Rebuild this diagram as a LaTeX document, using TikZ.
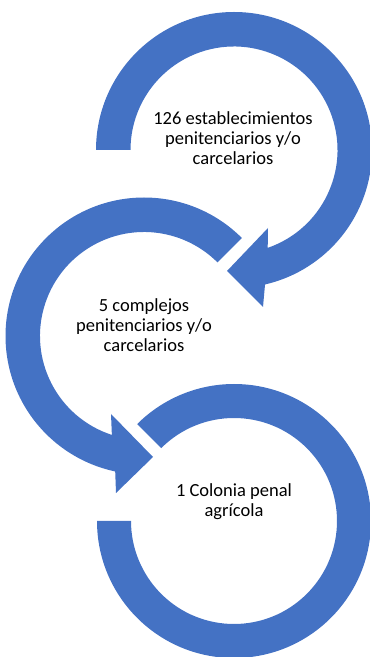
\documentclass[tikz,border=0pt]{standalone}
\usepackage{fontspec}
\setmainfont{Carlito}
\usepackage{xcolor}
\usepackage{tikz}
\usetikzlibrary{calc}
\definecolor{ringblue}{HTML}{4472C4}

\begin{document}
\begin{tikzpicture}[x=1pt, y=1pt, ring/.style={fill=ringblue, draw=none}, every node/.style={align=center, inner sep=0pt, font=\fontsize{18.5}{20}\selectfont}]
    \useasboundingbox (0,0) rectangle (370,657);
    \coordinate (c1) at (234,507);
    \coordinate (c2) at (144,321);
    \coordinate (c3) at (234,136);

    % bottom ring
    \path[ring] (c3) ++(180:137) arc[start angle=180, end angle=495, radius=137]
        -- ($(c3)+(135:103)$) arc[start angle=495, end angle=180, radius=103] -- cycle;
    % middle ring with arrow
    \path[ring] (c2) ++(45:138.5) arc[start angle=45, end angle=258, radius=138.5]
        -- (116,164) -- (153,200) -- (111,243)
        -- ($(c2)+(252:104)$) arc[start angle=252, end angle=45, radius=104] -- cycle;
    % top ring with arrow
    \path[ring] (c1) ++(180:138) arc[start angle=180, end angle=-77, radius=138]
        -- (263,350) -- (227,386) -- (268,429)
        -- ($(c1)+(-71:103.5)$) arc[start angle=-71, end angle=180, radius=103.5] -- cycle;

    \node (t1) at (233,519) {126 establecimientos\\penitenciarios y/o\\carcelarios};
    \node (t2) at (144,332) {5 complejos\\penitenciarios y/o\\carcelarios};
    \node (t3) at (234,155) {1 Colonia penal\\agrícola};
\end{tikzpicture}
\end{document}
